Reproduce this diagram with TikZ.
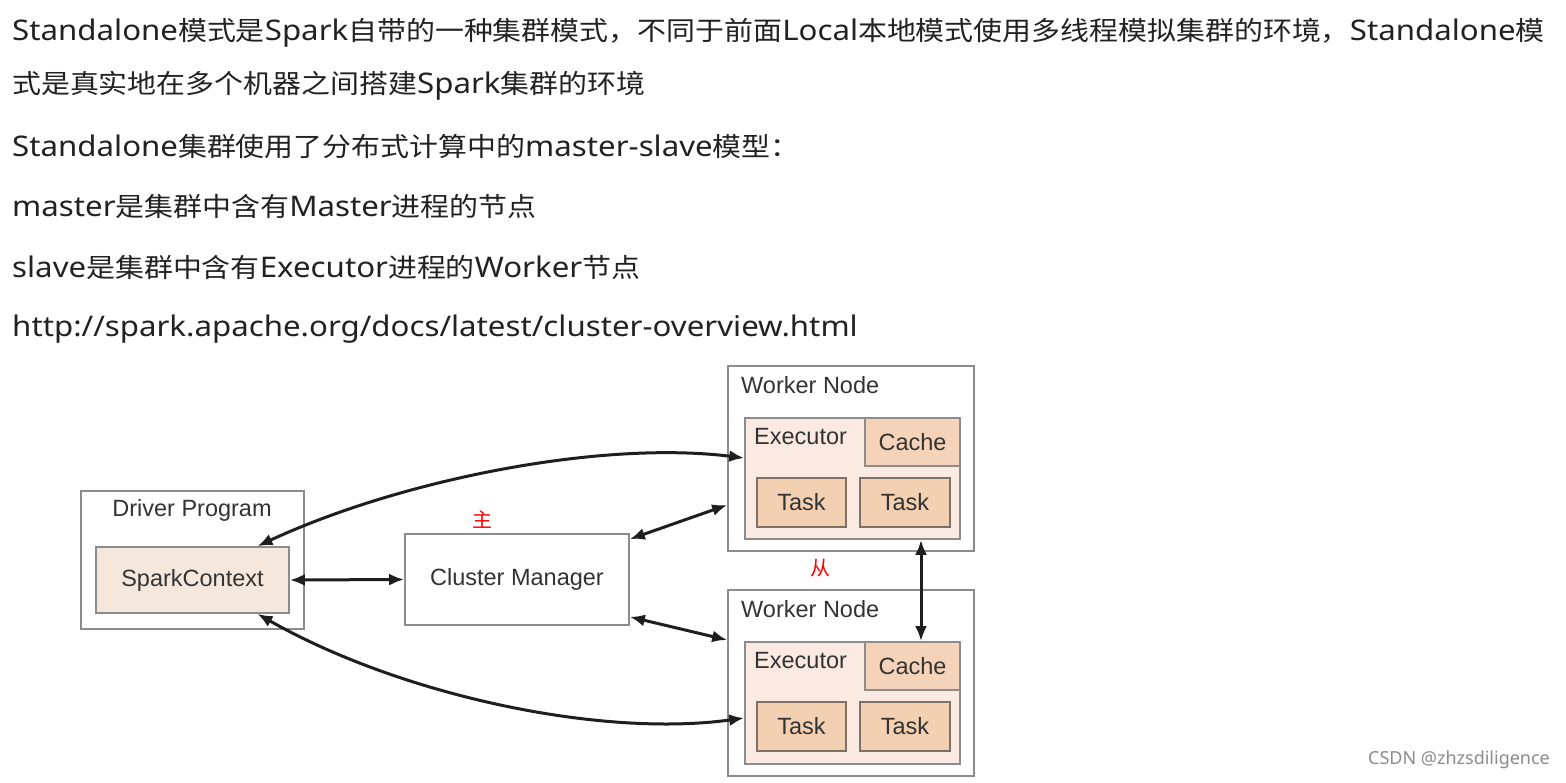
\documentclass[tikz,border=0pt]{standalone}
\usepackage{fontspec}
\setmainfont{Noto Sans}[FakeStretch=1.1]
\newfontfamily\zhf{Noto Sans CJK SC}[Scale=0.926, FakeStretch=1.1]
\newfontfamily\redf{Noto Sans CJK SC}
\newfontfamily\wmf{Noto Sans}
\newcommand\zh[1]{{\zhf #1}}
\newfontfamily\arialf{Liberation Sans}
\usetikzlibrary{arrows.meta,calc}
\definecolor{txt}{HTML}{222222}
\definecolor{dtxt}{HTML}{333333}
\definecolor{bord}{HTML}{8C8C8C}
\definecolor{scfill}{HTML}{F6E7DD}
\definecolor{exfill}{HTML}{FAEAE1}
\definecolor{cafill}{HTML}{F5D3B8}
\definecolor{tkfill}{HTML}{F3D0B1}
\definecolor{tkbord}{HTML}{7E7266}
\definecolor{arr}{HTML}{1E1E1E}
\tikzset{
  para/.style={anchor=base west, inner sep=0pt, text=txt, font=\fontsize{28.4}{33}\selectfont},
  box/.style={draw=bord, line width=1.7pt, inner sep=0pt},
  dfont/.style={text=dtxt, font=\arialf\fontsize{23.5}{27}\selectfont},
  lbl/.style={inner sep=0pt, dfont},
  taskbox/.style={draw=tkbord, line width=1.6pt, fill=tkfill, inner sep=0pt, minimum width=89pt, minimum height=49pt, dfont},
  link/.style={arr, line width=3pt, {Latex[length=15pt,width=12pt]}-{Latex[length=15pt,width=12pt]}},
  redlbl/.style={inner sep=0pt, text=red, font=\redf\fontsize{20}{24}\selectfont}
}
\begin{document}
\begin{tikzpicture}[x=1pt,y=-1pt]
\useasboundingbox (0,0) rectangle (1566,782);
\fill[white] (0,0) rectangle (1566,782);
% paragraph text
\node[para] (l1) at (12,40) {Standalone\zh{模式是}Spark\zh{自带的一种集群模式，不同于前面}Local\zh{本地模式使用多线程模拟集群的环境，}Standalone\zh{模}};
\node[para] (l2) at (12,93) {\zh{式是真实地在多个机器之间搭建}Spark\zh{集群的环境}};
\node[para] (l3) at (12,156) {Standalone\zh{集群使用了分布式计算中的}master-slave\zh{模型：}};
\node[para] (l4) at (12,216) {master\zh{是集群中含有}Master\zh{进程的节点}};
\node[para] (l5) at (12,277) {slave\zh{是集群中含有}Executor\zh{进程的}Worker\zh{节点}};
\node[para] (l6) at (12,336) {http://spark.apache.org/docs/latest/cluster-overview.html};
% driver
\node[box, fill=white, minimum width=223pt, minimum height=138pt] (dp) at (192.5,560) {};
\node[lbl] (dpl) at (192,510) {Driver Program};
\node[box, fill=scfill, minimum width=193pt, minimum height=66pt, dfont] (sc) at (192.5,580) {SparkContext};
% cluster manager
\node[box, fill=white, minimum width=224pt, minimum height=91pt, dfont] (cm) at (517,579.5) {Cluster Manager};
\node[redlbl] (zhu) at (482,520) {主};
\node[redlbl] (cong) at (820,568) {从};
% worker 1
\node[box, fill=white, minimum width=246pt, minimum height=185pt] (w1) at (851,458.5) {};
\node[lbl, anchor=west] (w1l) at (741,385) {Worker Node};
\node[box, fill=exfill, minimum width=215pt, minimum height=121pt] (e1) at (852.5,478.5) {};
\node[lbl, anchor=west] (e1l) at (754,437) {Executor};
\node[box, fill=cafill, minimum width=95pt, minimum height=48pt, dfont] (c1) at (912.5,442) {Cache};
\node[taskbox] (t1a) at (801.5,502.5) {Task};
\node[taskbox, minimum width=90pt] (t1b) at (905,502.5) {Task};
% worker 2
\node[box, fill=white, minimum width=246pt, minimum height=186pt] (w2) at (851,683) {};
\node[lbl, anchor=west] (w2l) at (741,609) {Worker Node};
\node[box, fill=exfill, minimum width=215pt, minimum height=122pt] (e2) at (852.5,703) {};
\node[lbl, anchor=west] (e2l) at (754,661) {Executor};
\node[box, fill=cafill, minimum width=95pt, minimum height=48pt, dfont] (c2) at (912.5,666) {Cache};
\node[taskbox] (t2a) at (801.5,726.5) {Task};
\node[taskbox, minimum width=90pt] (t2b) at (905,726.5) {Task};
% connectors
\draw[link] (sc.east) -- (cm.west);
\draw[link] ([yshift=-6pt]cm.north east) -- ([yshift=-46.5pt]w1.west);
\draw[link] ([yshift=9pt]cm.south east) -- ([yshift=43pt]w2.west);
\draw[link] ([xshift=65pt]sc.north) .. controls (400,480) and (600,440) .. ([yshift=20.5pt]e1.west);
\draw[link] ([xshift=65pt]sc.south) .. controls (400,695) and (600,738) .. ([yshift=-15pt]e2.west);
\draw[link] ([xshift=8.5pt]c2.north) -- ([xshift=8.5pt]c2.north |- e1.south);
% watermark
\node[inner sep=0pt, text=black!45, font=\wmf\fontsize{18}{22}\selectfont] (wm) at (1459,760) {CSDN @zhzsdiligence};
\end{tikzpicture}
\end{document}
